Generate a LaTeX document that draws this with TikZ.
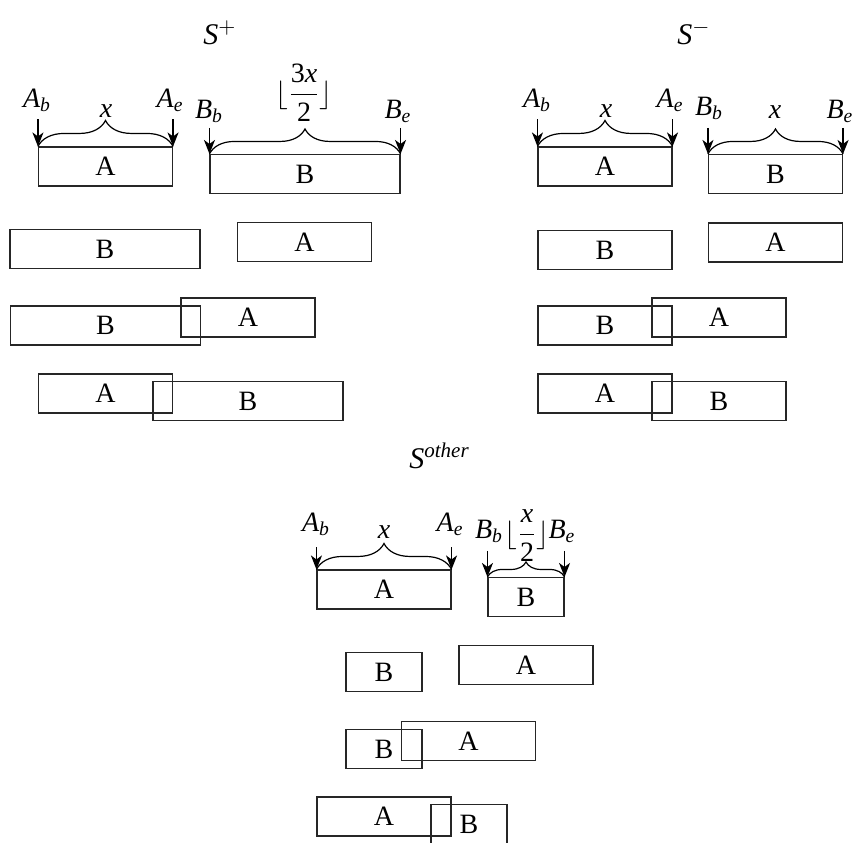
\documentclass[tikz,border=0pt]{standalone}
\usepackage{amsmath}
\usepackage{fontspec}
\setmainfont{Liberation Serif}
\usepackage{tikz}
\usetikzlibrary{decorations.pathreplacing,arrows.meta}

\newcommand{\lab}[2]{\textit{#1}\textsubscript{\textit{#2}}}

\begin{document}
\begin{tikzpicture}[x=0.5pt, y=-0.5pt, font=\fontsize{14}{16}\selectfont]
    % Define styles
    \tikzstyle{seg} = [rectangle, draw=black!85, inner sep=0pt, minimum height=19.5pt, line width=0.55pt]
    \tikzstyle{segx} = [seg, minimum width=67pt]
    \tikzstyle{seglong} = [seg, minimum width=95pt]
    \tikzstyle{seghalf} = [seg, minimum width=38pt]
    \tikzstyle{arrow} = [line width=0.8pt,->,>={Stealth[length=7pt,width=5.5pt,inset=2pt]}]
    \tikzstyle{brace} = [decorate, decoration={brace, amplitude=13pt}, line width=0.6pt]
    \tikzstyle{tag} = [anchor=base, inner sep=0pt]
    \tikzstyle{title} = [anchor=base west, inner sep=0pt, font=\fontsize{15}{17}\selectfont]

    \useasboundingbox (0,0) rectangle (860,842);

    % S+ case
    \node [title] (plusTitle) at (203,44) {\textit{S}$^{+}$};
    \node [segx] (plusA1) at (105.5,166.5) {A};
    \node [seglong] (plusB1) at (305,174) {B};
    \node [seglong] (plusB2) at (105,249) {B};
    \node [segx] (plusA2) at (304.5,242) {A};
    \node [seglong] (plusB3) at (105.5,325.5) {B};
    \node [segx] (plusA3) at (248,317.5) {A};
    \node [segx] (plusA4) at (105.5,393.5) {A};
    \node [seglong] (plusB4) at (248,401) {B};

    \node [tag] (plusAb) at (37,107) {\lab{A}{b}};
    \node [tag] (plusAe) at (170,107) {\lab{A}{e}};
    \node [tag] (plusX) at (106,117) {\textit{x}};
    \node [tag] (plusBb) at (209,118) {\lab{B}{b}};
    \node [tag] (plusBe) at (398,118) {\lab{B}{e}};
    \node [tag] (plusLen) at (304,102) {$\lfloor\dfrac{\text{3\textit{x}}}{\text{2}}\rfloor$};

    \draw [brace] (plusA1.north west) -- (plusA1.north east);
    \draw [brace, decoration={amplitude=12.5pt}] (plusB1.north west) -- (plusB1.north east);
    \draw [arrow] ([yshift=13.5pt]plusA1.north west) -- (plusA1.north west);
    \draw [arrow] ([yshift=13.5pt]plusA1.north east) -- (plusA1.north east);
    \draw [arrow] ([yshift=13pt]plusB1.north west) -- (plusB1.north west);
    \draw [arrow] ([yshift=13pt]plusB1.north east) -- (plusB1.north east);

    % S- case
    \node [title] (minusTitle) at (677,44) {\textit{S}$^{-}$};
    \node [segx] (minusA1) at (605,166.5) {A};
    \node [segx] (minusB1) at (775.5,174) {B};
    \node [segx] (minusB2) at (605,250) {B};
    \node [segx] (minusA2) at (775.5,242.5) {A};
    \node [segx] (minusB3) at (605,325.5) {B};
    \node [segx] (minusA3) at (719,317.5) {A};
    \node [segx] (minusA4) at (605,393.5) {A};
    \node [segx] (minusB4) at (719,401) {B};

    \node [tag] (minusAb) at (537,107) {\lab{A}{b}};
    \node [tag] (minusAe) at (670,107) {\lab{A}{e}};
    \node [tag] (minusX) at (606,117) {\textit{x}};
    \node [tag] (minusBb) at (709,115) {\lab{B}{b}};
    \node [tag] (minusY) at (775,118) {\textit{x}};
    \node [tag] (minusBe) at (840,118) {\lab{B}{e}};

    \draw [brace] (minusA1.north west) -- (minusA1.north east);
    \draw [brace, decoration={amplitude=12.5pt}] (minusB1.north west) -- (minusB1.north east);
    \draw [arrow] ([yshift=13.5pt]minusA1.north west) -- (minusA1.north west);
    \draw [arrow] ([yshift=13.5pt]minusA1.north east) -- (minusA1.north east);
    \draw [arrow] ([yshift=13pt]minusB1.north west) -- (minusB1.north west);
    \draw [arrow] ([yshift=13pt]minusB1.north east) -- (minusB1.north east);

    % S other case
    \node [title] (otherTitle) at (409,468) {\textit{S}\textsuperscript{\textit{other}}};
    \node [segx] (otherA1) at (384,589.5) {A};
    \node [seghalf] (otherB1) at (526,597) {B};
    \node [seghalf] (otherB2) at (384,672) {B};
    \node [segx] (otherA2) at (526,665) {A};
    \node [seghalf] (otherB3) at (384,749) {B};
    \node [segx] (otherA3) at (468.5,741) {A};
    \node [segx] (otherA4) at (384,816.5) {A};
    \node [seghalf] (otherB4) at (469,824) {B};

    \node [tag] (otherAb) at (316,531) {\lab{A}{b}};
    \node [tag] (otherAe) at (450,531) {\lab{A}{e}};
    \node [tag] (otherX) at (384,538) {\textit{x}};
    \node [tag] (otherBb) at (489,538) {\lab{B}{b}};
    \node [tag] (otherBe) at (562,538) {\lab{B}{e}};
    \node [tag] (otherLen) at (527,542) {$\lfloor\dfrac{\textit{x}}{\text{2}}\rfloor$};

    \draw [brace] (otherA1.north west) -- (otherA1.north east);
    \draw [brace, decoration={amplitude=7.5pt}] (otherB1.north west) -- (otherB1.north east);
    \draw [arrow] ([yshift=11pt]otherA1.north west) -- (otherA1.north west);
    \draw [arrow] ([yshift=11pt]otherA1.north east) -- (otherA1.north east);
    \draw [arrow] ([yshift=13pt]otherB1.north west) -- (otherB1.north west);
    \draw [arrow] ([yshift=13pt]otherB1.north east) -- (otherB1.north east);
\end{tikzpicture}
\end{document}
